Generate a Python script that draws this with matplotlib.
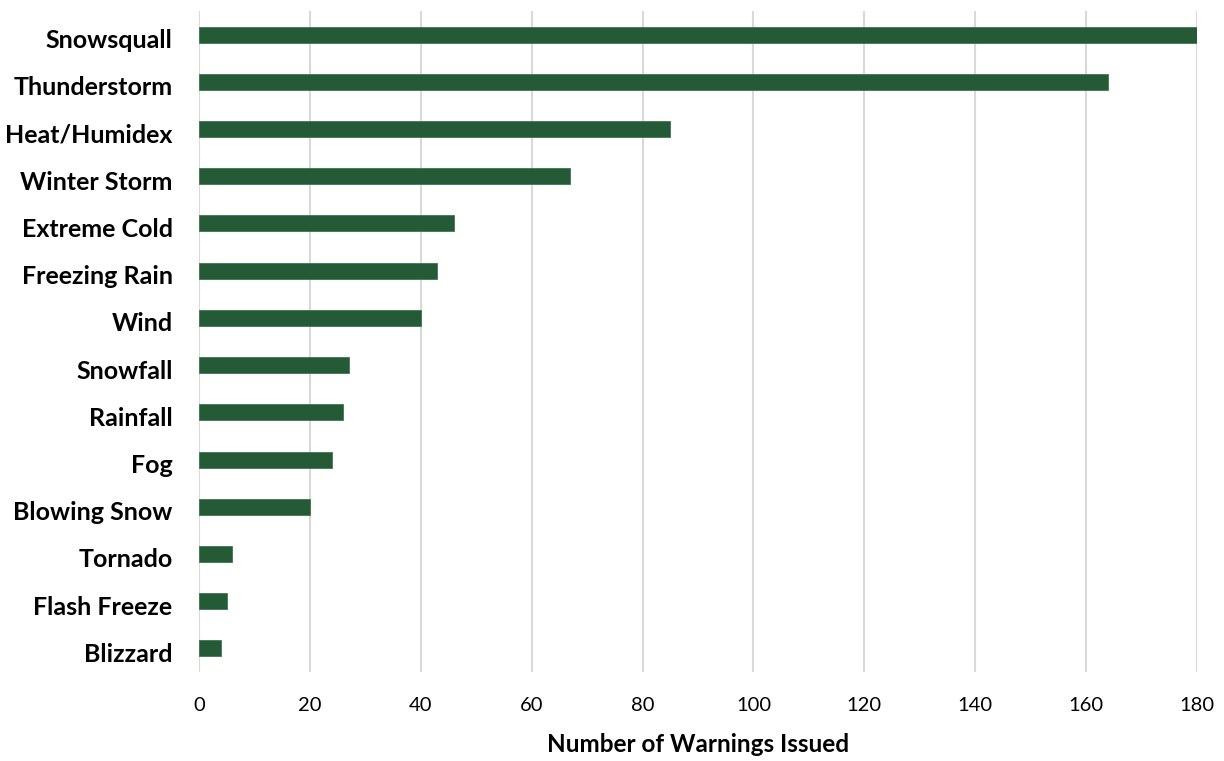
import matplotlib.pyplot as plt
import numpy as np

plt.rcParams['font.family'] = ['Lato', 'DejaVu Sans']

warning_types = ['Snowsquall', 'Thunderstorm', 'Heat/Humidex', 'Winter Storm',
                 'Extreme Cold', 'Freezing Rain', 'Wind', 'Snowfall', 'Rainfall',
                 'Fog', 'Blowing Snow', 'Tornado', 'Flash Freeze', 'Blizzard']
warnings_issued = [180, 164, 85, 67, 46, 43, 40, 27, 26, 24, 20, 6, 5, 4]
x_ticks = [0, 20, 40, 60, 80, 100, 120, 140, 160, 180]

fig = plt.figure(figsize=(12.24, 7.61), dpi=100)
ax = fig.add_axes([199 / 1224, 1 - 672 / 761, 998 / 1224, 661 / 761])

y_pos = np.arange(len(warning_types))
ax.barh(y_pos, warnings_issued, height=0.34, color='#245A36',
        edgecolor='#3f7550', linewidth=0.6, zorder=3)

ax.set_ylim(len(warning_types) - 0.5, -0.5)
ax.set_xlim(0, 180)
# category labels sit slightly below the bar centres
ax.set_yticks(y_pos + 0.085)
ax.set_yticklabels(warning_types, fontsize=18, fontweight='bold')
ax.set_xticks(x_ticks)
ax.set_xticklabels([str(t) for t in x_ticks], fontsize=14.5)

ax.xaxis.grid(True, color='#d9d9d9', linewidth=1.5, zorder=0)
for s in ax.spines.values():
    s.set_visible(False)
ax.tick_params(axis='both', length=0)
ax.tick_params(axis='y', pad=19)
ax.tick_params(axis='x', pad=18)

ax.set_xlabel('Number of Warnings Issued', fontsize=17.5, fontweight='bold', labelpad=14)

fig.savefig('out.png', dpi=100)
